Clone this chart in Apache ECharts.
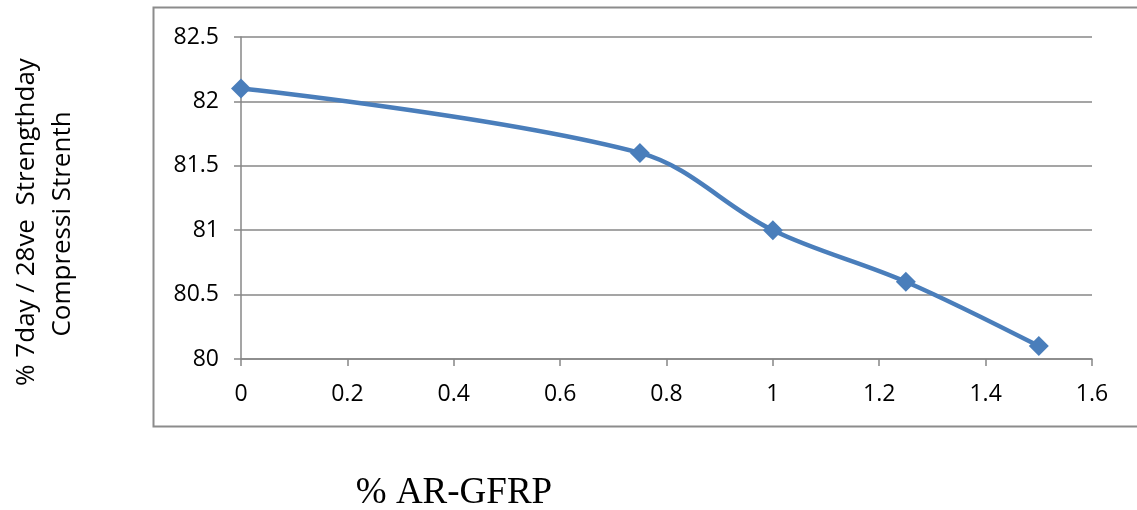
<!DOCTYPE html>
<html>
<head>
<meta charset="utf-8">
<script src="https://cdn.jsdelivr.net/npm/echarts@6/dist/echarts.min.js"></script>
<style>
  html, body { margin: 0; padding: 0; background: #fff; }
  #chart { width: 1137px; height: 510px; }
</style>
</head>
<body>
<div id="chart"></div>
<script>
// AR-GFRP content (%) and the 7-day / 28-day strength ratio (%)
const fibreContent = [0, 0.75, 1, 1.25, 1.5];
const strengthRatio = [82.1, 81.6, 81.0, 80.6, 80.1];

const yTitleLines = ['% 7day / 28ve  Strengthday', 'Compressi Strenth'];
const xTitle = '% AR-GFRP';

const points = fibreContent.map((x, i) => [x, strengthRatio[i]]);
const gridColor = '#878787';
const labelFont = '"Open Sans", "Liberation Sans", sans-serif';

const chart = echarts.init(document.getElementById('chart'), null, { renderer: 'canvas' });
chart.setOption({
  animation: false,
  backgroundColor: '#ffffff',
  grid: { left: 241, right: 45, top: 37, bottom: 151, containLabel: false },
  xAxis: {
    type: 'value', min: 0, max: 1.6, interval: 0.2,
    axisLine: { show: true, onZero: false, lineStyle: { color: gridColor, width: 1.5 } },
    axisTick: { show: true, length: 7, lineStyle: { color: gridColor, width: 1.5 } },
    splitLine: { show: false },
    axisLabel: { color: '#000', fontSize: 23, fontFamily: labelFont, margin: 24 }
  },
  yAxis: {
    type: 'value', min: 80, max: 82.5, interval: 0.5,
    axisLine: { show: true, lineStyle: { color: gridColor, width: 1.5 } },
    axisTick: { show: true, length: 7, lineStyle: { color: gridColor, width: 1.5 } },
    splitLine: { show: true, lineStyle: { color: gridColor, width: 1.5 } },
    axisLabel: { color: '#000', fontSize: 23, fontFamily: labelFont, margin: 22 }
  },
  graphic: [
    {
      type: 'rect', silent: true, z: -1,
      shape: { x: 153.5, y: 7.5, width: 1100, height: 419 },
      style: { fill: 'none', stroke: '#8c8c8c', lineWidth: 2 }
    },
    {
      type: 'text', x: 27, y: 222, rotation: Math.PI / 2,
      style: {
        text: yTitleLines[0], fill: '#000', fontSize: 26, fontFamily: labelFont,
        align: 'center', verticalAlign: 'middle'
      }
    },
    {
      type: 'text', x: 63, y: 224, rotation: Math.PI / 2,
      style: {
        text: yTitleLines[1], fill: '#000', fontSize: 26, fontFamily: labelFont,
        align: 'center', verticalAlign: 'middle'
      }
    },
    {
      type: 'text', x: 454, y: 493,
      style: {
        text: xTitle, fill: '#000', fontSize: 37,
        fontFamily: '"Liberation Serif", "DejaVu Serif", serif',
        align: 'center', verticalAlign: 'middle'
      }
    }
  ],
  series: [{
    type: 'line',
    data: points,
    smooth: 0.35,
    symbol: 'diamond',
    symbolSize: 20,
    lineStyle: { color: '#4a7ebb', width: 4.5 },
    itemStyle: { color: '#4a7ebb' }
  }]
});
</script>
</body>
</html>
